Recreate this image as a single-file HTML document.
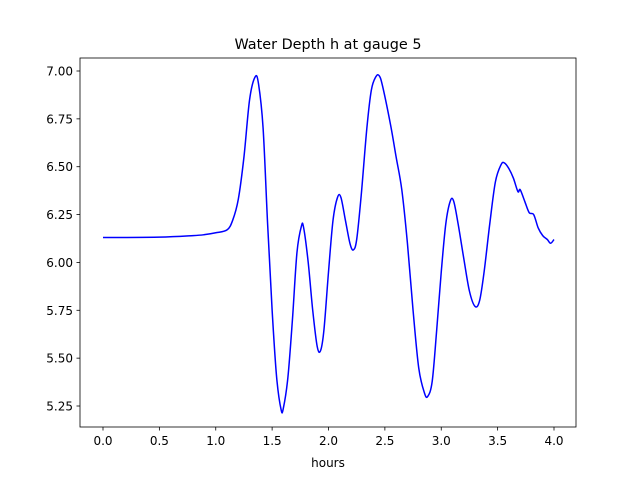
<!DOCTYPE html>
<html><head><meta charset="utf-8">
<style>
body{margin:0;background:#fff;}
svg{display:block;font-family:"DejaVu Sans","Liberation Sans",sans-serif;}
</style></head>
<body>
<svg id="chart" width="640" height="480" viewBox="0 0 640 480">
<rect width="640" height="480" fill="#fff"/>
<text x="328" y="49" text-anchor="middle" font-size="14.4">Water Depth h at gauge 5</text>
<g id="xt"></g>
<g id="yt"></g>
<path id="line" fill="none" stroke="#0000ff" stroke-width="1.5" stroke-linejoin="round"/>
<rect x="80" y="58" width="496" height="369" fill="none" stroke="#000" stroke-width="0.8"/>
<text x="328" y="467" text-anchor="middle" font-size="12">hours</text>
</svg>
<script>
const hours=[0,0.5,0.8,0.9,1.0,1.1,1.15,1.2,1.25,1.3,1.35,1.38,1.42,1.46,1.5,1.54,1.58,1.6,1.64,1.68,1.72,1.76,1.78,1.82,1.86,1.9,1.93,1.96,2.0,2.04,2.08,2.11,2.15,2.19,2.22,2.25,2.29,2.34,2.38,2.42,2.45,2.48,2.55,2.6,2.65,2.7,2.75,2.8,2.85,2.88,2.92,2.96,3.0,3.04,3.08,3.11,3.15,3.2,3.25,3.3,3.34,3.38,3.43,3.48,3.53,3.56,3.6,3.64,3.68,3.7,3.74,3.78,3.82,3.86,3.9,3.94,3.97,4.0];
const depth=[6.13,6.132,6.14,6.145,6.155,6.17,6.22,6.33,6.55,6.85,6.97,6.93,6.7,6.2,5.75,5.4,5.23,5.24,5.4,5.7,6.05,6.19,6.18,6.0,5.75,5.56,5.54,5.65,5.95,6.22,6.34,6.34,6.22,6.1,6.065,6.12,6.35,6.7,6.9,6.97,6.975,6.92,6.72,6.55,6.38,6.1,5.75,5.45,5.32,5.3,5.38,5.65,5.95,6.2,6.32,6.32,6.2,6.02,5.85,5.77,5.8,5.95,6.2,6.42,6.51,6.52,6.49,6.44,6.37,6.38,6.32,6.26,6.25,6.18,6.14,6.12,6.1,6.12];
const xTicks=[0,0.5,1.0,1.5,2.0,2.5,3.0,3.5,4.0];
const xTickLabels=["0.0","0.5","1.0","1.5","2.0","2.5","3.0","3.5","4.0"];
const yTicks=[5.25,5.5,5.75,6.0,6.25,6.5,6.75,7.0];
const yTickLabels=["5.25","5.50","5.75","6.00","6.25","6.50","6.75","7.00"];
const NS="http://www.w3.org/2000/svg";
const xs=t=>103+t*112.75;
const ys=h=>71+(7-h)*191.43;
const xt=document.getElementById('xt'),yt=document.getElementById('yt');
xTicks.forEach((t,i)=>{
 const l=document.createElementNS(NS,'line');
 
 
 l.setAttribute('x1',xs(t));l.setAttribute('x2',xs(t));l.setAttribute('y1',427);l.setAttribute('y2',430.5);l.setAttribute('stroke','#000');l.setAttribute('stroke-width','0.8');
 xt.appendChild(l);
 const tx=document.createElementNS(NS,'text');
 
 
 tx.setAttribute('x',xs(t));tx.setAttribute('y',445);tx.setAttribute('text-anchor','middle');tx.setAttribute('font-size','12');
 tx.textContent=xTickLabels[i];xt.appendChild(tx);
});
yTicks.forEach((h,i)=>{
 const l=document.createElementNS(NS,'line');
 
 
 l.setAttribute('x1',76.5);l.setAttribute('x2',80);l.setAttribute('y1',ys(h));l.setAttribute('y2',ys(h));l.setAttribute('stroke','#000');l.setAttribute('stroke-width','0.8');
 yt.appendChild(l);
 const tx=document.createElementNS(NS,'text');
 
 
 tx.setAttribute('x',73);tx.setAttribute('y',ys(h)+4.5);tx.setAttribute('text-anchor','end');tx.setAttribute('font-size','12');
 tx.textContent=yTickLabels[i];yt.appendChild(tx);
});
// Catmull-Rom smoothing
const P=hours.map((t,i)=>[xs(t),ys(depth[i])]);
let d='M'+P[0][0]+','+P[0][1];
for(let i=0;i<P.length-1;i++){
 const p0=P[Math.max(0,i-1)],p1=P[i],p2=P[i+1],p3=P[Math.min(P.length-1,i+2)];
 const c1=[p1[0]+(p2[0]-p0[0])/6,p1[1]+(p2[1]-p0[1])/6];
 const c2=[p2[0]-(p3[0]-p1[0])/6,p2[1]-(p3[1]-p1[1])/6];
 d+=' C'+c1[0].toFixed(2)+','+c1[1].toFixed(2)+' '+c2[0].toFixed(2)+','+c2[1].toFixed(2)+' '+p2[0].toFixed(2)+','+p2[1].toFixed(2);
}
document.getElementById('line').setAttribute('d',d);
</script>
</body></html>
